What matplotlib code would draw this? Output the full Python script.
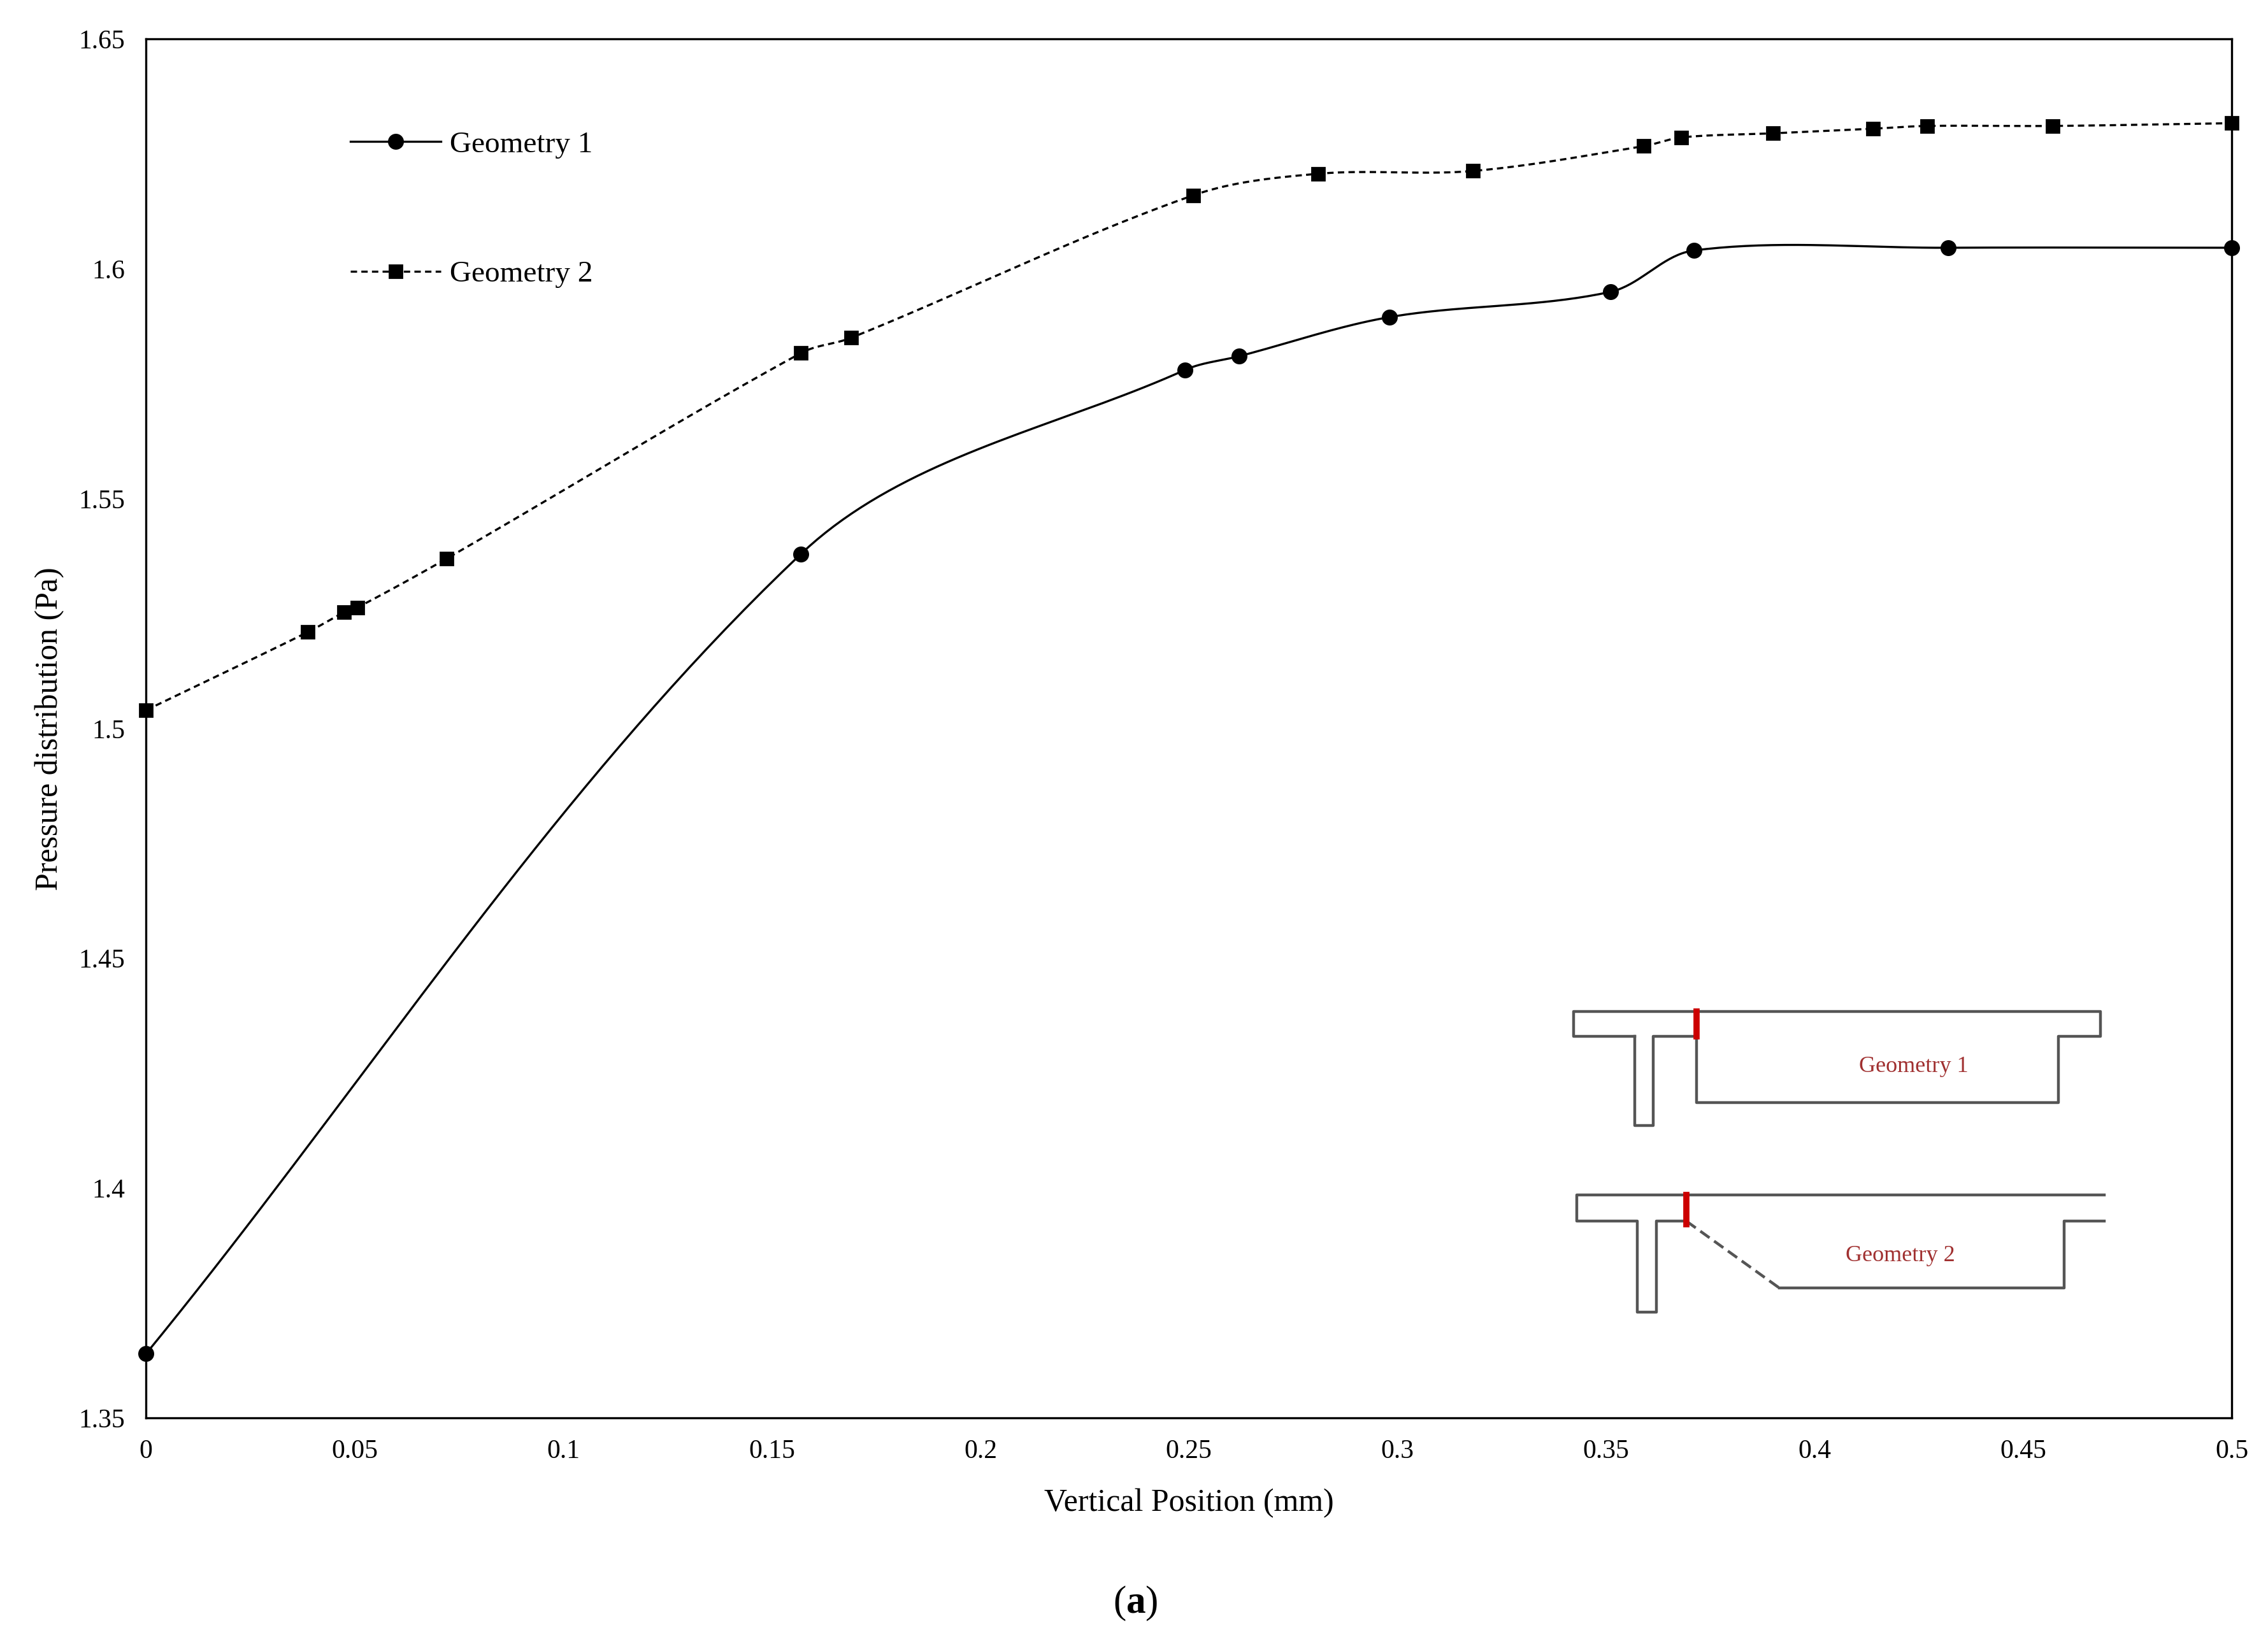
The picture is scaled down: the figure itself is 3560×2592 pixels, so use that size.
import numpy as np
import matplotlib
matplotlib.use("Agg")
import matplotlib.pyplot as plt

plt.rcParams['font.family'] = 'Liberation Serif'
plt.rcParams['mathtext.fontset'] = 'custom'
plt.rcParams['mathtext.bf'] = 'Liberation Serif:bold'
plt.rcParams['mathtext.rm'] = 'Liberation Serif'

g1_x = [0.0, 0.157, 0.249, 0.262, 0.298, 0.351, 0.371, 0.432, 0.5]
g1_y = [1.364, 1.538, 1.578, 1.581, 1.5895, 1.595, 1.604, 1.6046, 1.6046]
g2_x = [0.0, 0.0388, 0.0475, 0.0506, 0.0721, 0.157, 0.169, 0.251, 0.281, 0.318,
        0.359, 0.368, 0.390, 0.414, 0.427, 0.457, 0.5]
g2_y = [1.504, 1.521, 1.5253, 1.5263, 1.537, 1.5817, 1.585, 1.616, 1.6207, 1.6213,
        1.6267, 1.6286, 1.6295, 1.6305, 1.6311, 1.6311, 1.6317]
xticks = [0, 0.05, 0.1, 0.15, 0.2, 0.25, 0.3, 0.35, 0.4, 0.45, 0.5]
xtick_labels = ['0', '0.05', '0.1', '0.15', '0.2', '0.25', '0.3', '0.35', '0.4', '0.45', '0.5']
yticks = [1.35, 1.4, 1.45, 1.5, 1.55, 1.6, 1.65]
ytick_labels = ['1.35', '1.4', '1.45', '1.5', '1.55', '1.6', '1.65']

def smooth(x, y, n=40):
    # Excel-like Bezier smoothing through the points (drawing style only)
    sxs, sys_ = 1/0.5 * 1.5, 1/0.3
    P = np.column_stack([np.asarray(x)*sxs, np.asarray(y)*sys_])
    N = len(P)
    D = []
    for i in range(N):
        a = P[max(i-1, 0)]; b = P[min(i+1, N-1)]
        v = b - a
        D.append(v / np.linalg.norm(v))
    t = np.linspace(0, 1, n)[:, None]
    out = []
    for i in range(N-1):
        L = np.linalg.norm(P[i+1] - P[i]) / 3
        p0 = P[i]; p3 = P[i+1]
        p1 = p0 + D[i]*L; p2 = p3 - D[i+1]*L
        seg = (1-t)**3*p0 + 3*(1-t)**2*t*p1 + 3*(1-t)*t**2*p2 + t**3*p3
        out.append(seg)
    out = np.vstack(out)
    return out[:, 0]/sxs, out[:, 1]/sys_

fig = plt.figure(figsize=(17.8, 12.96), dpi=200)
W, H = 1568, 1141
ax = fig.add_axes([101/W, 1-980/H, (1543-101)/W, (980-27)/H])
sx, sy = smooth(g1_x, g1_y)
ax.plot(sx, sy, color='black', lw=1.2)
ax.plot(g1_x, g1_y, 'o', color='black', ms=8, clip_on=False)
sx, sy = smooth(g2_x, g2_y)
ax.plot(sx, sy, color='black', lw=1.2, ls=(0, (3, 2)))
ax.plot(g2_x, g2_y, 's', color='black', ms=7, clip_on=False)
ax.set_xlim(0, 0.5); ax.set_ylim(1.35, 1.65)
ax.set_xticks(xticks); ax.set_xticklabels(xtick_labels)
ax.set_yticks(yticks); ax.set_yticklabels(ytick_labels)
ax.tick_params(length=0, labelsize=15, pad=12)
ax.set_xlabel('Vertical Position (mm)', fontsize=18, labelpad=14)
ax.set_ylabel('Pressure distribution (Pa)', fontsize=18, labelpad=8)
for s in ax.spines.values():
    s.set_linewidth(1.2)

h1, = ax.plot([], [], '-o', color='black', ms=8, lw=1.2)
h2, = ax.plot([], [], 's', color='black', ms=7, lw=1.2, ls=(0, (3, 2)))
ax.legend([h1, h2], ['Geometry 1', 'Geometry 2'], loc='upper left',
          bbox_to_anchor=(0.085, 0.953), frameon=False, fontsize=17,
          labelspacing=3.4, handlelength=3.0, handletextpad=0.3)

def P(px, py):
    return px / W, 1 - py / H
def line(pts, **kw):
    xs = [P(*p)[0] for p in pts]; ys = [P(*p)[1] for p in pts]
    fig.add_artist(plt.Line2D(xs, ys, transform=fig.transFigure, color='#555555', lw=1.6, **kw))

line([(1130, 716), (1088, 716), (1088, 699), (1452, 699), (1452, 716), (1423, 716), (1423, 762), (1173, 762), (1173, 716)])
line([(1130, 716), (1130, 778), (1143, 778), (1143, 716), (1173, 716)])
fig.add_artist(plt.Line2D([P(1173, 0)[0]]*2, [P(0, 699)[1], P(0, 716)[1]], transform=fig.transFigure, color='#cc0000', lw=3.5))
fig.text(*P(1323, 737), 'Geometry 1', color='#a03030', fontsize=13, ha='center', va='center')
line([(1455, 826), (1090, 826), (1090, 844), (1132, 844), (1132, 907), (1145, 907), (1145, 844), (1166, 844)])
line([(1166, 844), (1230, 890)], ls=(0, (4, 2)))
line([(1230, 890), (1427, 890), (1427, 844), (1455, 844)])
fig.add_artist(plt.Line2D([P(1166, 0)[0]]*2, [P(0, 826)[1], P(0, 846)[1]], transform=fig.transFigure, color='#cc0000', lw=3.5))
fig.text(*P(1314, 868), 'Geometry 2', color='#a03030', fontsize=13, ha='center', va='center')

fig.text(*P(785, 1108), r'($\mathbf{a}$)', fontsize=22, ha='center', va='center')
fig.savefig('out.png', dpi=200)
